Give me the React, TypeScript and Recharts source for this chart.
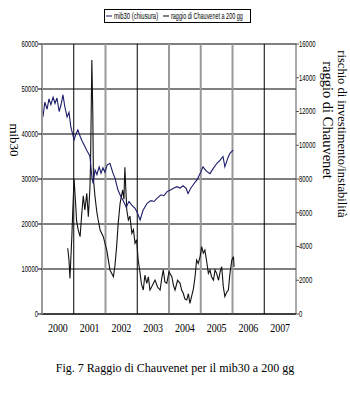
import { LineChart, Line, XAxis, YAxis, CartesianGrid, ReferenceLine, Legend } from "recharts"

// year bands on the x axis (labels sit in the middle of each band)
const yearLabels = [2000, 2001, 2002, 2003, 2004, 2005, 2006, 2007]
const yearBoundaries = [2001, 2002, 2003, 2004, 2005, 2006, 2007]
const boundaryColors = ["#000", "#9a9a9a", "#000", "#9a9a9a", "#9a9a9a", "#9a9a9a", "#000"]

const leftTicks = [0, 10000, 20000, 30000, 40000, 50000, 60000]
const rightTicks = [0, 2000, 4000, 6000, 8000, 10000, 12000, 14000, 16000]

// mib30 closing level (left axis)
const mibYears = [
  2000.03, 2000.09, 2000.16, 2000.22, 2000.28, 2000.35, 2000.41, 2000.47, 2000.54, 2000.6,
  2000.66, 2000.72, 2000.79, 2000.85, 2000.91, 2001.01, 2001.07, 2001.13, 2001.2, 2001.26,
  2001.35, 2001.42, 2001.48, 2001.51, 2001.57, 2001.61, 2001.67, 2001.73, 2001.8, 2001.86,
  2001.92, 2001.98, 2002.05, 2002.14, 2002.24, 2002.3, 2002.39, 2002.49, 2002.55, 2002.65,
  2002.74, 2002.83, 2002.93, 2002.99, 2003.09, 2003.18, 2003.31, 2003.43, 2003.53, 2003.62,
  2003.75, 2003.84, 2003.94, 2004.06, 2004.16, 2004.25, 2004.35, 2004.44, 2004.54, 2004.6,
  2004.69, 2004.79, 2004.88, 2004.98, 2005.07, 2005.17, 2005.29, 2005.39, 2005.51, 2005.61,
  2005.7, 2005.76, 2005.86, 2005.92, 2006.02,
]
const mibValues = [
  43800, 47100, 45500, 47800, 46500, 48200, 46800, 48000, 45000, 46500,
  48700, 46000, 43800, 44800, 41500, 38700, 40000, 40900, 39500, 38500,
  37200, 36200, 35500, 35000, 30500, 29000, 32000, 31000, 32700, 31300,
  32500, 31500, 33100, 33500, 31200, 30200, 27600, 26000, 25300, 23800,
  25000, 24200, 23500, 22700, 20900, 23000, 24600, 25200, 25000, 25700,
  26500, 26300, 27200, 27600, 28000, 28300, 28000, 28500, 27900, 26800,
  28000, 29000, 29800, 31200, 32700, 31800, 31200, 32300, 33500, 34200,
  35000, 32700, 34800, 35700, 36400,
]

// raggio di Chauvenet a 200 gg (right axis)
const chauYears = [
  2000.81, 2000.85, 2000.88, 2000.94, 2000.97, 2001.01, 2001.06, 2001.09, 2001.14, 2001.2,
  2001.25, 2001.3, 2001.35, 2001.41, 2001.46, 2001.51, 2001.53, 2001.57, 2001.6, 2001.62,
  2001.67, 2001.73, 2001.77, 2001.83, 2001.93, 2002.04, 2002.14, 2002.25, 2002.3, 2002.35,
  2002.4, 2002.46, 2002.54, 2002.58, 2002.61, 2002.67, 2002.72, 2002.77, 2002.83, 2002.88,
  2002.93, 2002.98, 2003.03, 2003.09, 2003.13, 2003.19, 2003.24, 2003.3, 2003.35, 2003.4,
  2003.48, 2003.56, 2003.64, 2003.72, 2003.77, 2003.82, 2003.87, 2003.93, 2004.0, 2004.09,
  2004.14, 2004.19, 2004.27, 2004.35, 2004.4, 2004.45, 2004.5, 2004.56, 2004.61, 2004.66,
  2004.71, 2004.77, 2004.82, 2004.87, 2004.92, 2004.98, 2005.03, 2005.08, 2005.13, 2005.18,
  2005.24, 2005.29, 2005.34, 2005.4, 2005.45, 2005.5, 2005.56, 2005.61, 2005.66, 2005.71,
  2005.76, 2005.82, 2005.87, 2005.92, 2005.98, 2006.03, 2006.05,
]
const chauValues = [
  3900, 3200, 2100, 4580, 6160, 8000, 6500, 5500, 4980, 4580,
  5900, 7000, 6160, 7150, 5770, 7500, 9000, 15050, 11900, 8000,
  6950, 6000, 5570, 4980, 4580, 3790, 2610, 2210, 2900, 3990,
  5370, 6560, 7350, 6800, 8700, 6160, 5570, 5800, 4780, 5000,
  4190, 4400, 3200, 2410, 1800, 1420, 2300, 1820, 2200, 1420,
  1700, 2010, 1600, 1420, 2100, 2610, 1900, 1820, 2500, 2210,
  1700, 1420, 2000, 1820, 1400, 1230, 900, 830, 1200, 630,
  1030, 1500, 2210, 3200, 3000, 3400, 3990, 3600, 3790, 3200,
  2410, 2600, 2210, 2010, 2600, 2410, 2000, 2500, 2800, 1620,
  1030, 1300, 1420, 2410, 3200, 3400, 2800,
]

const mibData = mibYears.map((year, i) => ({ year, mib: mibValues[i] }))
const chauData = chauYears.map((year, i) => ({ year, chau: chauValues[i] }))
const yearTicks = yearLabels.map((y) => y + 0.5)

const navy = "#1c1c6b"
const sansNarrow = "'Liberation Sans', Arial, sans-serif"
const serif = "'Liberation Serif', 'Times New Roman', serif"

const NarrowTick = (props: any) => {
  const { x, y, payload, anchor } = props
  return (
    <text
      transform={`translate(${x},${y}) scale(0.66,1)`}
      textAnchor={anchor}
      dominantBaseline="central"
      fontSize={9}
      fontFamily={sansNarrow}
      fill="#000"
    >
      {payload.value}
    </text>
  )
}

const YearTick = (props: any) => {
  const { x, y, payload } = props
  return (
    <text
      transform={`translate(${x},${y}) scale(0.8,1)`}
      dy="0.71em"
      textAnchor="middle"
      fontSize={12.5}
      fontFamily={serif}
      fill="#000"
    >
      {Math.floor(payload.value)}
    </text>
  )
}

const LegendBox = () => (
  <svg width={150} height={15}>
    <rect x={0.5} y={0.5} width={146} height={13} fill="#fff" stroke="#000" />
    <line x1={2} x2={8} y1={7} y2={7} stroke={navy} />
    <text transform="translate(10,10) scale(0.66,1)" fontSize={9} fontFamily={sansNarrow}>
      mib30 (chiusura)
    </text>
    <line x1={59} x2={65} y1={7} y2={7} stroke="#000" />
    <text transform="translate(67,10) scale(0.61,1)" fontSize={9} fontFamily={sansNarrow}>
      raggio di Chauvenet a 200 gg
    </text>
  </svg>
)

export default function App() {
  return (
    <div style={{ position: "absolute", left: 0, top: 0, width: 350, height: 400, background: "#fff" }}>
      <LineChart width={350} height={400} margin={{ top: 44, right: 0, left: 0, bottom: 66 }}>
        <CartesianGrid yAxisId="left" vertical={false} stroke="#000" strokeWidth={1} />
        <XAxis
          type="number"
          dataKey="year"
          domain={[2000, 2008]}
          ticks={yearTicks}
          interval={0}
          tick={<YearTick />}
          tickLine={false}
          tickSize={0}
          tickMargin={9}
          height={20}
          axisLine={{ stroke: "#000" }}
        />
        <YAxis
          yAxisId="left"
          domain={[0, 60000]}
          ticks={leftTicks}
          interval={0}
          width={42}
          tickSize={4}
          tickMargin={0}
          tick={(p: any) => <NarrowTick {...p} anchor="end" />}
          axisLine={{ stroke: "#9a9a9a", strokeWidth: 2 }}
          tickLine={{ stroke: "#000" }}
        />
        <YAxis
          yAxisId="right"
          orientation="right"
          domain={[0, 16000]}
          ticks={rightTicks}
          interval={0}
          width={54}
          tickSize={3}
          tickMargin={0}
          tick={(p: any) => <NarrowTick {...p} anchor="start" />}
          axisLine={{ stroke: "#555" }}
          tickLine={{ stroke: "#555" }}
        />
        {yearBoundaries.map((y, i) => (
          <ReferenceLine
            key={y}
            yAxisId="left"
            x={y}
            stroke={boundaryColors[i]}
            strokeWidth={boundaryColors[i] === "#000" ? 1 : 2}
          />
        ))}
        <Line
          yAxisId="right"
          data={chauData}
          dataKey="chau"
          type="linear"
          stroke="#111"
          strokeWidth={1.1}
          dot={false}
          isAnimationActive={false}
        />
        <Line
          yAxisId="left"
          data={mibData}
          dataKey="mib"
          type="linear"
          stroke={navy}
          strokeWidth={1.1}
          dot={false}
          isAnimationActive={false}
        />
        <Legend
          layout="horizontal"
          verticalAlign="middle"
          align="center"
          content={() => <LegendBox />}
          wrapperStyle={{ top: 9, left: 104, width: 150 }}
        />
      </LineChart>
      <svg
        width={350}
        height={400}
        style={{ position: "absolute", left: 0, top: 0, pointerEvents: "none" }}
      >
        <text
          transform="translate(14,140) rotate(90)"
          textAnchor="middle"
          dominantBaseline="central"
          fontSize={13}
          fontFamily={serif}
        >
          mib30
        </text>
        <text
          transform="translate(342,134) rotate(90)"
          textAnchor="middle"
          dominantBaseline="central"
          fontSize={12.5}
          fontFamily={serif}
        >
          rischio di investimento/instabilità
        </text>
        <text
          transform="translate(328,120) rotate(90)"
          textAnchor="middle"
          dominantBaseline="central"
          fontSize={14.5}
          fontFamily={serif}
        >
          raggio di Chauvenet
        </text>
        <text x={175} y={372} textAnchor="middle" fontSize={12} fontFamily={serif}>
          Fig. 7 Raggio di Chauvenet per il mib30 a 200 gg
        </text>
      </svg>
    </div>
  )
}
